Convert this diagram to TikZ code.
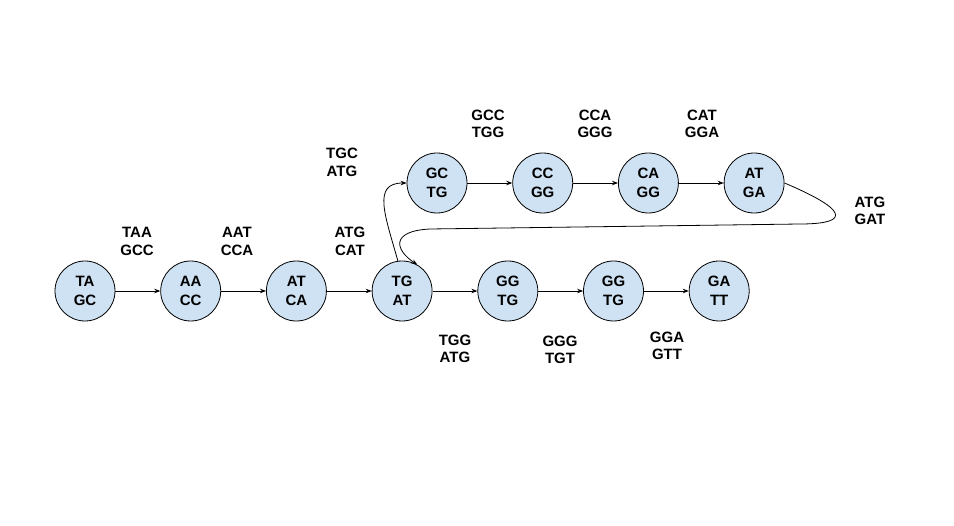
\documentclass[tikz,border=0pt]{standalone}
\usepackage{fontspec}
\setmainfont{Liberation Sans}
\usetikzlibrary{positioning,arrows.meta}
\definecolor{kmerblue}{HTML}{CFE2F3}

\begin{document}
\begin{tikzpicture}[x=1pt,y=1pt,
	kmer/.style={circle, draw, fill=kmerblue, line width=0.8pt, minimum size=60pt, inner sep=0pt, align=center, font=\fontsize{15}{19}\selectfont\bfseries},
	edgelabel/.style={align=center, inner sep=0pt, font=\fontsize{15}{17.5}\selectfont\bfseries},
	arr/.style={-{Stealth[length=6pt,width=4.5pt]}, line width=0.8pt},
	node distance=44.9pt]
	\path [use as bounding box] (0,0) rectangle (954,-526);
	% bottom row
	\node[kmer] (B1) at (85,-291) {TA\\GC};
	\node[kmer, right=of B1] (B2) {AA\\CC};
	\node[kmer, right=of B2] (B3) {AT\\CA};
	\node[kmer, right=of B3] (B4) {TG\\AT};
	\node[kmer, right=of B4] (B5) {GG\\TG};
	\node[kmer, right=of B5] (B6) {GG\\TG};
	\node[kmer, right=of B6] (B7) {GA\\TT};
	% top row
	\node[kmer] (T1) at (437,-183) {GC\\TG};
	\node[kmer, right=of T1] (T2) {CC\\GG};
	\node[kmer, right=of T2] (T3) {CA\\GG};
	\node[kmer, right=of T3] (T4) {AT\\GA};
	% edge labels
	\node[edgelabel] (L1) at (137,-241.5) {TAA\\GCC};
	\node[edgelabel] (L2) at (237,-241.5) {AAT\\CCA};
	\node[edgelabel] (L3) at (350,-241.5) {ATG\\CAT};
	\node[edgelabel] (L4) at (342,-162.5) {TGC\\ATG};
	\node[edgelabel] (L5) at (488,-124) {GCC\\TGG};
	\node[edgelabel] (L6) at (595,-124) {CCA\\GGG};
	\node[edgelabel] (L7) at (702,-124) {CAT\\GGA};
	\node[edgelabel] (L8) at (870,-211) {ATG\\GAT};
	\node[edgelabel] (L9) at (455,-349) {TGG\\ATG};
	\node[edgelabel] (L10) at (560,-350) {GGG\\TGT};
	\node[edgelabel] (L11) at (667,-346) {GGA\\GTT};
	% edges
	\draw[arr] (B1) -- (B2);
	\draw[arr] (B2) -- (B3);
	\draw[arr] (B3) -- (B4);
	\draw[arr] (B4) -- (B5);
	\draw[arr] (B5) -- (B6);
	\draw[arr] (B6) -- (B7);
	\draw[arr] (T1) -- (T2);
	\draw[arr] (T2) -- (T3);
	\draw[arr] (T3) -- (T4);
	\draw[arr] (B4.98) .. controls (385,-215) and (372,-183) .. (T1.west);
	\draw[arr] (T4.east) .. controls (860,-215) and (840,-224) .. (800,-224)
		-- (430,-229) .. controls (390,-231) and (395,-250) .. (B4.60);
\end{tikzpicture}
\end{document}
